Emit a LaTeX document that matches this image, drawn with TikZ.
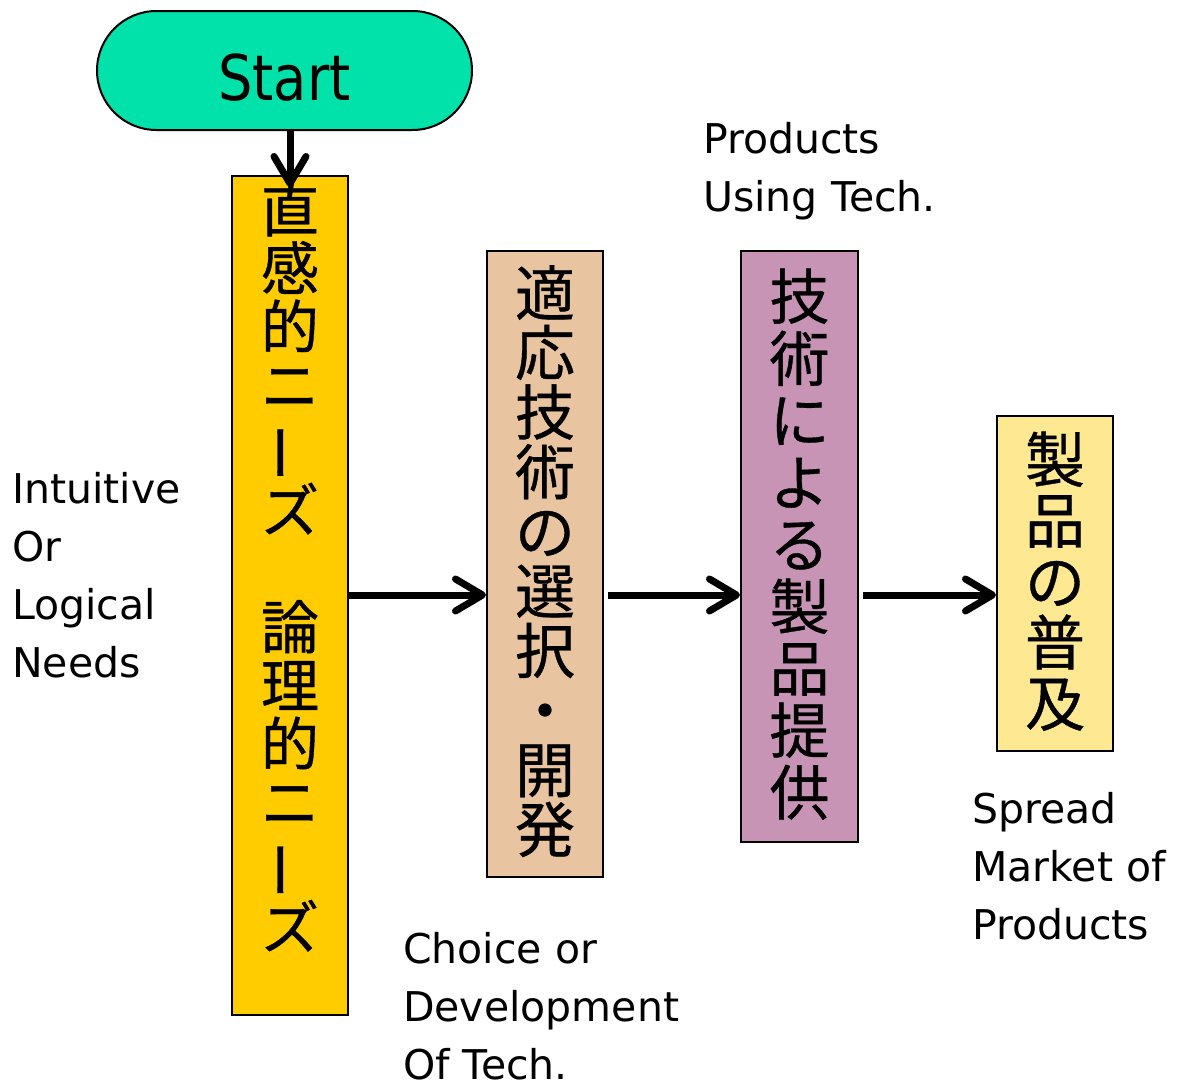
\documentclass[tikz,border=0pt]{standalone}
\usepackage{fontspec}
\setmainfont{DejaVu Sans}
\newfontfamily\cjk[FakeBold=0.6]{Noto Sans CJK JP}
\usetikzlibrary{arrows.meta,shapes.misc}

\definecolor{startgreen}{RGB}{0,226,170}
\definecolor{needsgold}{RGB}{255,204,0}
\definecolor{techtan}{RGB}{232,196,160}
\definecolor{prodmauve}{RGB}{200,148,182}
\definecolor{spreadyellow}{RGB}{255,232,146}

% vertical long-vowel mark
\newcommand{\vbar}{\rotatebox[origin=c]{90}{ー}}

\tikzset{
  stepbox/.style={draw=black, line width=2pt, inner sep=0pt, minimum width=116pt},
  jp/.style={align=center, inner sep=0pt, anchor=base},
  lbl/.style={font=\fontsize{41}{58}\selectfont, align=left, inner sep=0pt, anchor=base west},
  flow/.style={line width=7pt, -{Straight Barb[length=27pt,width=32pt,line cap=round,line join=round]}},
}

\begin{document}
\begin{tikzpicture}[x=1pt, y=-1pt]
\useasboundingbox (0,0) rectangle (1179,1087);

% start terminal
\node[rounded rectangle, rounded rectangle arc length=180, draw=black, line width=2pt,
      fill=startgreen, minimum width=375pt, minimum height=119pt, inner sep=0pt,
      font=\fontsize{63}{63}\selectfont, text height=59pt, text depth=0pt]
  (start) at (284.5,70.5) {\scalebox{0.86}[1]{Start}};

% process boxes
\node[stepbox, fill=needsgold,    minimum height=839pt] (n1) at (290,595.5) {};
\node[stepbox, fill=techtan,      minimum height=626pt] (n2) at (545,564) {};
\node[stepbox, fill=prodmauve,    minimum width=117pt, minimum height=591pt] (n3) at (799.5,546.5) {};
\node[stepbox, fill=spreadyellow, minimum height=335pt] (n4) at (1055,583.5) {};

% vertical Japanese captions (anchored at the baseline of their last character)
\node[jp, font=\cjk\fontsize{58}{58.4}\selectfont] (t1) at ([yshift=-774pt]n1.north)
  {直\\感\\的\\ニ\\\vbar\\ズ\\　\\論\\理\\的\\ニ\\\vbar\\ズ};
\node[jp, font=\cjk\fontsize{60}{59.6}\selectfont] (t2) at ([yshift=-602pt]n2.north)
  {適\\応\\技\\術\\の\\選\\択\\・\\開\\発};
\node[jp, font=\cjk\fontsize{60}{62}\selectfont] (t3) at ([yshift=-565pt]n3.north)
  {技\\術\\に\\よ\\る\\製\\品\\提\\供};
\node[jp, font=\cjk\fontsize{60}{61}\selectfont] (t4) at ([yshift=-311pt]n4.north)
  {製\\品\\の\\普\\及};

% English captions (anchored at the baseline of their last line)
\node[lbl] (l1) at (12,677) {Intuitive\\Or\\Logical\\Needs};
\node[lbl] (l2) at (403,1079) {Choice or\\Development\\Of Tech.};
\node[lbl] (l3) at (703,211) {Products\\Using Tech.};
\node[lbl] (l4) at (972,939) {Spread\\Market of\\Products};

% connectors
\draw[flow] (start.south -| n1.north) -- ([yshift=-12pt]n1.north);
\draw[flow] (n1.east |- 0,595) -- (n2.west |- 0,595);
\draw[flow] ([xshift=4pt]n2.east |- 0,595) -- (n3.west |- 0,595);
\draw[flow] ([xshift=4pt]n3.east |- 0,595) -- (n4.west |- 0,595);
\end{tikzpicture}
\end{document}
